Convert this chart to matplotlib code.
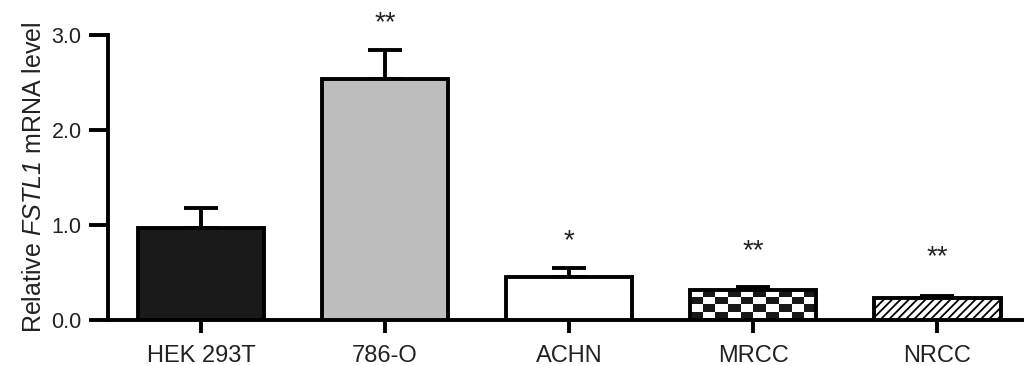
"""Relative FSTL1 mRNA level across cell lines (bar chart with upper error bars)."""

import matplotlib
import matplotlib.pyplot as plt
import numpy as np

matplotlib.use("Agg")

plt.rcParams["font.family"] = ["Liberation Sans", "DejaVu Sans"]
plt.rcParams["mathtext.fontset"] = "custom"
plt.rcParams["mathtext.it"] = "Liberation Sans:italic"
# only the gene name is mathtext, so digits there should be italic too
plt.rcParams["mathtext.rm"] = "Liberation Sans:italic"
plt.rcParams["hatch.linewidth"] = 1.3

cell_lines = ["HEK 293T", "786-O", "ACHN", "MRCC", "NRCC"]
means = [0.97, 2.54, 0.45, 0.32, 0.23]
errors = [0.21, 0.30, 0.10, 0.03, 0.02]
stars = ["", "**", "*", "**", "**"]
star_y = [None, 3.12, 0.83, 0.72, 0.66]

fill_colors = ["#1a1a1a", "#bdbdbd", "white", "white", "white"]
hatches = [None, None, None, None, "////"]

fig = plt.figure(figsize=(10.24, 3.65), dpi=100)
ax = fig.add_axes([108 / 1024, 45 / 365, 1 - 108 / 1024, 285 / 365])

x = np.arange(len(cell_lines))
lw = 2.8
bars = ax.bar(x, means, width=0.685, color=fill_colors, edgecolor="black",
              linewidth=lw, zorder=3)
for bar, h in zip(bars, hatches):
    if h:
        bar.set_hatch(h)

# checkerboard fill for MRCC
mb = bars[3]
checker = np.indices((4, 10)).sum(axis=0) % 2
img = ax.imshow(checker, cmap="gray_r", interpolation="nearest", aspect="auto",
                extent=(mb.get_x(), mb.get_x() + mb.get_width(), 0, mb.get_height()),
                zorder=2.5, vmin=0, vmax=1.1)
img.set_clip_path(mb)
mb.set_facecolor("none")

ax.errorbar(x, means, yerr=[np.zeros(len(errors)), errors], fmt="none",
            ecolor="black", elinewidth=lw, capsize=12.5, capthick=lw, zorder=2)

for xi, s, sy in zip(x, stars, star_y):
    if s:
        ax.text(xi, sy, s, ha="center", va="center", fontsize=20, color="#222222",
                clip_on=False)

ax.set_xlim(-0.505, 4.47)
ax.set_ylim(0, 3.0)
ax.set_yticks([0, 1, 2, 3])
ax.set_yticklabels(["0.0", "1.0", "2.0", "3.0"])
ax.set_xticks(x)
ax.set_xticklabels(cell_lines)
ax.tick_params(axis="y", length=14, width=lw, labelsize=15.5, pad=5,
               labelcolor="#222222")
ax.tick_params(axis="x", length=9, width=lw, labelsize=17, pad=9,
               labelcolor="#222222")
ax.set_ylabel("Relative $\\mathit{FSTL1}$ mRNA level", fontsize=18, labelpad=4,
              color="#222222")

ax.spines[["top", "right"]].set_visible(False)
ax.spines["left"].set_linewidth(lw)
ax.spines["bottom"].set_linewidth(lw)

fig.savefig("out.png", dpi=100)
